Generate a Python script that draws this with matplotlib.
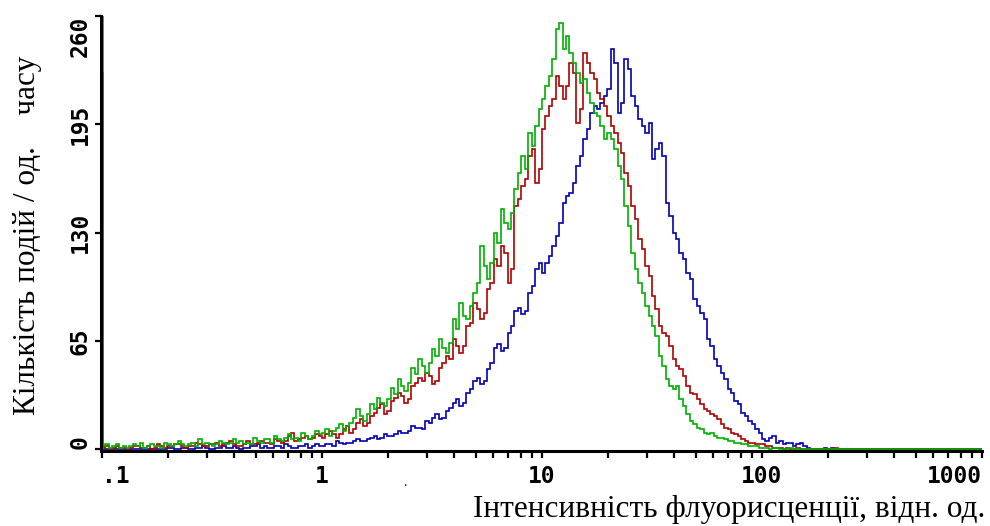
import numpy as np
import matplotlib
matplotlib.use("Agg")
import matplotlib.pyplot as plt
from matplotlib.ticker import FixedLocator, LogLocator, NullFormatter
from matplotlib.transforms import ScaledTranslation

# histogram channels: 64 per decade, 0.1 .. 1000 (4 decades)
bins_per_decade = 64

green_d1 = [2,3,1,2,3,1,2,1, 2,3,2,4,1,2,3,2, 2,1,4,3,2,3,5,3, 2,3,4,2,6,3,4,3,
            2,3,5,4,3,4,6,4, 5,3,4,3,7,5,4,6, 6,4,8,6,5,7,9,6, 7,5,10,8,6,8,11,9]
green_d2 = [10,12,8,11,13,15,11,14, 16,19,24,20,17,21,27,24, 31,28,26,30,37,33,42,38, 35,40,49,45,54,50,46,52,
            60,56,66,61,58,64,78,72, 88,80,78,86,94,100,122,110, 102,112,130,124,144,136,132,142, 156,166,176,168,190,182,194,204]
green_d3 = [210,218,224,234,252,256,240,248, 238,232,226,220,222,214,208,202, 200,194,186,190,186,180,170,162, 146,134,118,108,100,94,86,80,
            74,68,56,50,42,38,36,38, 30,26,21,17,15,13,12,10, 9,10,8,7,7,6,5,5, 4,4,3,3,2,2,2,1]
green_d4 = [1,1,0,1,1,0,0,0, 1,0,0,0,0,0,0,0, 0,0,0,0,0,0,0,0, 0,0,0,0,0,0,0,0,
            0,0,0,0,0,0,0,0, 0,0,0,0,0,0,0,0, 0,0,0,0,0,0,0,0, 0,0,0,0,0,0,0,0]

red_d1 = [1,2,0,1,2,1,1,0, 1,2,2,1,1,2,0,1, 3,2,1,2,2,3,3,2, 1,2,2,4,3,2,2,3,
          3,4,2,3,4,5,3,2, 2,3,5,3,3,4,5,4, 4,3,6,5,4,5,8,10, 5,6,7,8,6,7,9,8]
red_d2 = [7,9,11,9,7,9,12,14, 10,12,16,18,14,16,20,22, 25,27,21,23,29,31,34,32, 28,30,38,40,43,41,46,44,
          39,41,49,52,56,54,66,62, 58,62,74,76,88,84,78,82, 96,100,114,110,122,118,100,108, 146,150,158,162,176,180,160,168]
red_d3 = [192,200,206,210,224,218,210,218, 232,226,196,204,238,232,226,222, 214,210,206,200,194,190,184,178, 166,158,146,138,126,120,110,104,
          92,84,74,70,68,62,54,50, 48,44,38,34,33,30,27,24, 23,21,20,18,15,13,12,10, 9,8,6,5,4,4,3,3]
red_d4 = [3,2,2,1,1,1,0,1, 0,0,1,0,0,0,0,0, 0,0,0,0,0,1,0,0, 0,0,0,0,0,0,0,0,
          0,0,0,0,0,0,0,0, 0,0,0,0,0,0,0,0, 0,0,0,0,0,0,0,0, 0,0,0,0,0,0,0,0]

blue_d1 = [0,0,0,0,0,0,0,0, 0,0,0,0,0,0,0,0, 0,0,0,1,1,0,0,1, 1,0,0,1,1,2,1,0,
           0,1,1,2,1,1,2,1, 0,1,1,2,2,3,1,2, 1,1,2,2,1,3,2,1, 1,2,2,3,1,2,3,2]
blue_d2 = [2,3,3,2,5,4,3,4, 4,5,6,5,5,6,7,8, 6,7,9,8,8,9,11,10, 10,11,14,13,13,12,17,16,
           19,21,18,19,23,25,28,30, 26,28,34,36,41,43,39,41, 48,52,61,63,59,61,70,74, 83,85,81,83,94,98,108,112]
blue_d3 = [106,112,116,122,128,136,148,152, 154,160,170,176,186,192,202,206, 204,208,212,216,240,232,202,208, 234,228,212,206,198,194,190,196,
           174,180,184,176,148,140,130,126, 118,114,106,102,90,86,82,78, 66,62,54,50,46,42,36,34, 29,27,22,20,17,15,12,10]
blue_d4 = [6,5,7,8,4,5,3,4, 4,2,3,4,2,1,0,0, 0,0,1,0,1,0,0,0, 0,0,0,0,0,0,0,0,
           0,0,0,0,0,0,0,0, 0,0,0,0,0,0,0,0, 0,0,0,0,0,0,0,0, 0,0,0,0,0,0,0,0]

green = green_d1 + green_d2 + green_d3 + green_d4
red = red_d1 + red_d2 + red_d3 + red_d4
blue = blue_d1 + blue_d2 + blue_d3 + blue_d4

# first channel (off-scale events piled up at the lower limit)
green_first = 300
blue_first = 226

x_ticks = [0.1, 1, 10, 100, 1000]
x_ticklabels = ['.1', '1', '10', '100', '1000']
y_ticks = [0, 65, 130, 195, 260]
y_ticklabels = ['0', '65', '130', '195', '260']

c_green = '#00b000'
c_red = '#b00000'
c_blue = '#0000b4'


def edges_for(n):
    return 10.0 ** (np.arange(n + 1) / bins_per_decade - 1)


fig = plt.figure(figsize=(9.9, 5.26), dpi=100)
ax = fig.add_axes([100.5 / 990, 75 / 526, (982 - 100.5) / 990, (451 - 16) / 526])

ax.stairs(blue, edges_for(len(blue)), color=c_blue, lw=1.2)
ax.stairs(red, edges_for(len(red)), color=c_red, lw=1.2)
ax.stairs(green, edges_for(len(green)), color=c_green, lw=1.2)
ax.stairs([blue_first], [0.1, 0.1012], color=c_blue, lw=1.2)
ax.stairs([green_first], [0.1, 0.1012], color=c_green, lw=1.2)

ax.set_xscale('log')
ax.set_xlim(0.0985, 1000)
ax.set_ylim(-1, 260)

ax.spines['top'].set_visible(False)
ax.spines['right'].set_visible(False)
ax.spines['left'].set_linewidth(2.2)
ax.spines['bottom'].set_linewidth(2.2)

ax.xaxis.set_major_locator(FixedLocator(x_ticks))
ax.set_xticklabels(x_ticklabels)
ax.xaxis.set_minor_locator(LogLocator(base=10, subs=np.arange(2, 10)))
ax.xaxis.set_minor_formatter(NullFormatter())
ax.set_yticks(y_ticks)
ax.set_yticklabels(y_ticklabels, rotation=90, va='center')

for lab in ax.get_xticklabels() + ax.get_yticklabels():
    lab.set_fontfamily('DejaVu Sans Mono')
    lab.set_fontweight('bold')
    lab.set_fontsize(16.5)

xl = ax.get_xticklabels()
xl[0].set_ha('left')
xl[0].set_transform(xl[0].get_transform() + ScaledTranslation(-5 / 100, 0, fig.dpi_scale_trans))
xl[-1].set_ha('right')
xl[-1].set_transform(xl[-1].get_transform() + ScaledTranslation(-3 / 100, 0, fig.dpi_scale_trans))
yl = ax.get_yticklabels()
yl[0].set_va('bottom')
yl[0].set_transform(yl[0].get_transform() + ScaledTranslation(0, 4 / 100, fig.dpi_scale_trans))
yl[-1].set_va('top')
yl[-1].set_transform(yl[-1].get_transform() + ScaledTranslation(0, -6 / 100, fig.dpi_scale_trans))

ax.tick_params(axis='x', which='both', direction='out', length=5, width=1.6, pad=5)
ax.tick_params(axis='y', direction='out', length=4.3, width=1.6, pad=2)

fig.text(28 / 990, 1 - 235 / 526, 'Кількість подій / од.    часу', rotation=90,
         ha='center', va='center', family='Liberation Serif', fontsize=22.5)
fig.text(985 / 990, 1 - 510 / 526, 'Інтенсивність флуорисценції, відн. од.',
         ha='right', va='center', family='Liberation Serif', fontsize=22.5)
fig.text(405 / 990, 1 - 482 / 526, '.', ha='center', va='center',
         family='Liberation Serif', fontsize=10)

fig.savefig('out.png', dpi=100)
